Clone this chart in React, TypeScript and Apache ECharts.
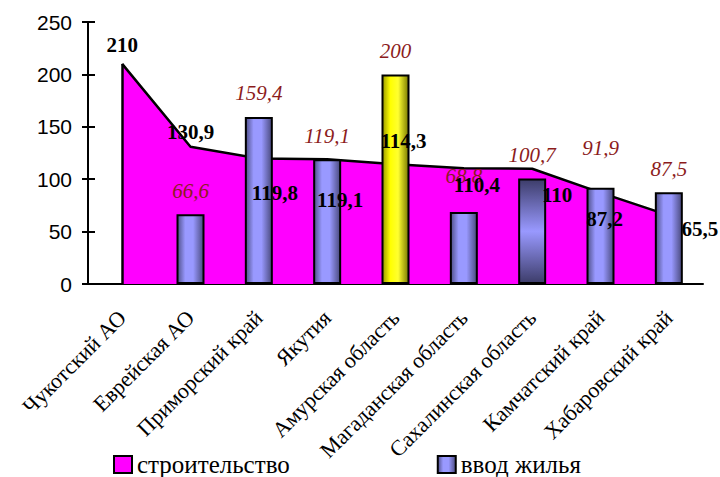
import React, { useEffect, useRef } from "react";
import * as echarts from "echarts";

const categories = [
  "Чукотский АО",
  "Еврейская АО",
  "Приморский край",
  "Якутия",
  "Амурская область",
  "Магаданская область",
  "Сахалинская область",
  "Камчатский край",
  "Хабаровский край",
];
const construction = [210, 130.9, 119.8, 119.1, 114.3, 110.4, 110, 87.2, 65.5];
const housing: (number | null)[] = [null, 66.6, 159.4, 119.1, 200, 68.8, 100.7, 91.9, 87.5];
const seriesNames = ["строительство", "ввод жилья"];
const yMin = 0;
const yMax = 250;
const yStep = 50;

// label offsets (style only)
const areaLabelOffsets: [number, number][] = [
  [0, -19], [0, -15], [16, 35], [13, 41], [8, -23], [13, 17], [25, 26], [4, 26], [31, 14],
];
const barLabelExtra: [number, number][] = [
  [0, 0], [0, 0], [0, 0], [0, 0], [0, 0], [0, -12], [0, 0], [0, -16], [0, 0],
];

const SERIF = "'Liberation Serif', 'Times New Roman', serif";
const SANS = "'Liberation Sans', Arial, sans-serif";

const fmt = (v: number) => String(v).replace(".", ",");

const blueGrad = new echarts.graphic.LinearGradient(0, 0, 1, 0, [
  { offset: 0, color: "#50508a" },
  { offset: 0.3, color: "#9999ff" },
  { offset: 0.6, color: "#9999ff" },
  { offset: 1, color: "#4a4a7e" },
]);
const yellowGrad = new echarts.graphic.LinearGradient(0, 0, 1, 0, [
  { offset: 0, color: "#9a9a00" },
  { offset: 0.3, color: "#ffff00" },
  { offset: 0.6, color: "#ffff30" },
  { offset: 1, color: "#7a7a00" },
]);
const vertGrad = new echarts.graphic.LinearGradient(0, 0, 0, 1, [
  { offset: 0, color: "#3d3d6a" },
  { offset: 0.5, color: "#9999ff" },
  { offset: 1, color: "#3d3d6a" },
]);
const specialBarColor: Record<number, any> = { 4: yellowGrad, 6: vertGrad };

export default function App() {
  const ref = useRef<HTMLDivElement>(null);
  useEffect(() => {
    if (!ref.current) return;
    const chart = echarts.init(ref.current, undefined, { renderer: "svg" });
    const axisLineStyle = { color: "#000", width: 2 };
    chart.setOption({
      animation: false,
      backgroundColor: "#fff",
      grid: { left: 88, right: 17, top: 22, bottom: 193 },
      legend: {
        left: 113,
        top: 452,
        itemWidth: 18,
        itemHeight: 17,
        itemGap: 147,
        padding: 0,
        textStyle: { fontFamily: SERIF, fontSize: 25, color: "#000", lineHeight: 25 },
        data: [
          {
            name: seriesNames[0],
            icon: "rect",
            itemStyle: { color: "#ff00ff", borderColor: "#000", borderWidth: 2 },
          },
          {
            name: seriesNames[1],
            icon: "rect",
            itemStyle: { color: blueGrad, borderColor: "#000", borderWidth: 2 },
          },
        ],
      },
      xAxis: [
        {
          type: "category",
          data: categories,
          axisLine: { lineStyle: axisLineStyle },
          axisTick: { length: 6, lineStyle: axisLineStyle },
          axisLabel: {
            rotate: 45,
            interval: 0,
            margin: 30,
            fontFamily: SERIF,
            fontSize: 22,
            color: "#000",
          },
        },
        {
          type: "category",
          data: categories,
          position: "bottom",
          axisLine: { show: false },
          axisTick: { inside: true, length: 6, lineStyle: axisLineStyle },
          axisLabel: { show: false },
        },
      ],
      yAxis: [
        {
          type: "value",
          min: yMin,
          max: yMax,
          interval: yStep,
          axisLine: { show: true, lineStyle: axisLineStyle },
          axisTick: { show: true, length: 6, lineStyle: axisLineStyle },
          splitLine: { show: false },
          axisLabel: { margin: 16, fontFamily: SANS, fontSize: 21, color: "#000" },
        },
        {
          type: "value",
          min: yMin,
          max: yMax,
          interval: yStep,
          position: "left",
          axisLine: { show: false },
          axisTick: { show: true, inside: true, length: 7, lineStyle: axisLineStyle },
          splitLine: { show: false },
          axisLabel: { show: false },
        },
      ],
      series: [
        {
          name: seriesNames[0],
          type: "line",
          symbol: "none",
          itemStyle: { color: "#ff00ff" },
          lineStyle: { color: "#000", width: 2.5 },
          areaStyle: { color: "#ff00ff", opacity: 1 },
          data: construction,
          markLine: {
            silent: true,
            symbol: "none",
            label: { show: false },
            lineStyle: { color: "#000", width: 2.5, type: "solid" },
            data: [
              [
                { coord: [categories[0], yMin] },
                { coord: [categories[0], construction[0]] },
              ],
            ],
          },
          z: 1,
        },
        {
          name: seriesNames[1],
          type: "bar",
          barWidth: 28,
          itemStyle: { color: blueGrad, borderColor: "#000", borderWidth: 2 },
          data: housing.map((v, i) =>
            v === null
              ? "-"
              : {
                  value: v,
                  itemStyle: specialBarColor[i] ? { color: specialBarColor[i] } : undefined,
                  label: { offset: barLabelExtra[i] },
                }
          ),
          label: {
            show: true,
            position: "top",
            distance: 13,
            formatter: (p: any) => fmt(p.value),
            fontFamily: SERIF,
            fontStyle: "italic",
            fontSize: 21,
            color: "#8c1c1c",
          },
          z: 3,
        },
        {
          name: "labels-" + seriesNames[0],
          type: "scatter",
          symbolSize: 2,
          itemStyle: { color: "rgba(0,0,0,0)", opacity: 1 },
          silent: true,
          data: construction.map((v, i) => ({
            value: v,
            label: { offset: areaLabelOffsets[i] },
          })),
          label: {
            show: true,
            position: "inside",
            formatter: (p: any) => fmt(p.value),
            fontFamily: SERIF,
            fontWeight: "bold",
            fontSize: 21,
            color: "#000",
            opacity: 1,
          },
          z: 10,
        },
      ],
    });
    return () => chart.dispose();
  }, []);
  return (
    <div
      ref={ref}
      style={{ position: "fixed", left: 0, top: 0, width: 720, height: 477, background: "#fff" }}
    />
  );
}
